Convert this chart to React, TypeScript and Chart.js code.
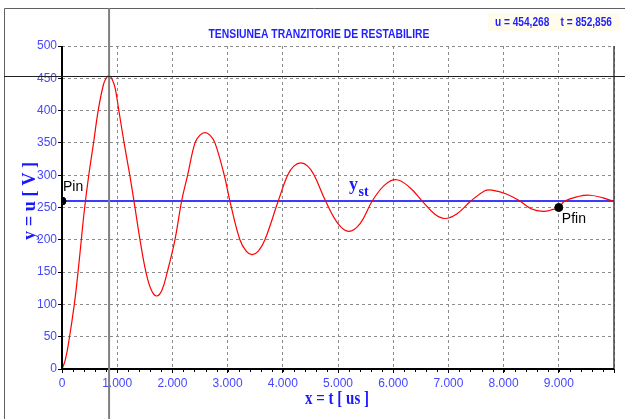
import React, { useEffect, useRef } from "react";
import { Chart, registerables } from "chart.js";

Chart.register(...registerables);

// ---- data ----
const curveT = [0, 60, 133, 223, 284, 344, 404, 485, 575, 655, 750, 800, 853, 905, 960, 1030, 1125, 1228, 1322, 1413, 1521, 1620, 1715, 1810, 1907, 2046, 2167, 2276, 2409, 2500, 2590, 2680, 2771, 2939, 3042, 3223, 3340, 3447, 3560, 3676, 3917, 4087, 4200, 4328, 4450, 4569, 4775, 5000, 5197, 5400, 5620, 5849, 6061, 6300, 6525, 6750, 6936, 7150, 7407, 7660, 7787, 8050, 8294, 8500, 8716, 8900, 9000, 9109, 9350, 9562, 9800, 10000];
const curveU = [0, 14, 48, 100, 145, 195, 245, 300, 352, 400, 440, 450, 454, 449, 436, 400, 350, 300, 250, 200, 150, 122, 113, 122, 150, 200, 260, 300, 350, 362, 366, 362, 350, 300, 260, 200, 182, 177, 183, 200, 260, 300, 314, 319, 314, 300, 260, 225, 213, 225, 260, 285, 293, 281, 260, 240, 233, 240, 260, 276, 277, 271, 260, 248, 244, 247, 250, 260, 267, 269, 265, 259];
const ySteady = 260;
const pointLabels = ["Pin", "Pfin"];
const pointT = [0, 9000];
const pointU = [260, 250];
const cursorT = 852.856;
const cursorU = 454.268;
const xTickLabels = ["0", "1.000", "2.000", "3.000", "4.000", "5.000", "6.000", "7.000", "8.000", "9.000"];
const titleText = "TENSIUNEA TRANZITORIE DE RESTABILIRE";
const xTitle = "x = t [ us ]";
const yTitle = "y = u [ V ]";

const W = 625;
const H = 419;
const NARROW = "'Liberation Sans Narrow', 'Liberation Sans', Arial, sans-serif";
const SERIF = "'Liberation Serif', 'Times New Roman', serif";

function fmt(v: number) {
  return v.toFixed(3).replace(".", ",");
}

function fitText(ctx: CanvasRenderingContext2D, text: string, x: number, y: number, width: number, align: "left" | "center") {
  const m = ctx.measureText(text).width;
  ctx.save();
  ctx.translate(x, y);
  ctx.scale(width / m, 1);
  ctx.textAlign = "left";
  ctx.fillText(text, align === "center" ? -m / 2 : 0, 0);
  ctx.restore();
}

const overlay = {
  id: "overlay",
  beforeDraw(chart: any) {
    const ctx = chart.ctx as CanvasRenderingContext2D;
    ctx.save();
    ctx.fillStyle = "#ffffff";
    ctx.fillRect(0, 0, W, H);
    ctx.fillStyle = "#fffcec";
    ctx.fillRect(488, 13, 132, 18);
    ctx.restore();
  },
  afterDraw(chart: any) {
    const ctx = chart.ctx as CanvasRenderingContext2D;
    const { chartArea } = chart;
    const xs = chart.scales.x;
    const ys = chart.scales.y;
    ctx.save();
    ctx.setLineDash([]);
    // right border of plot
    ctx.strokeStyle = "#404040";
    ctx.lineWidth = 1.5;
    ctx.beginPath();
    ctx.moveTo(chartArea.right, chartArea.top);
    ctx.lineTo(chartArea.right, chartArea.bottom);
    ctx.stroke();
    // axes
    ctx.strokeStyle = "#000000";
    ctx.lineWidth = 2;
    ctx.beginPath();
    ctx.moveTo(chartArea.left, chartArea.top);
    ctx.lineTo(chartArea.left, chartArea.bottom);
    ctx.lineTo(chartArea.right, chartArea.bottom);
    ctx.stroke();
    // minor ticks on x axis
    ctx.lineWidth = 1;
    ctx.beginPath();
    for (let v = 0; v <= 10000; v += 200) {
      const px = Math.round(xs.getPixelForValue(v)) + 0.5;
      ctx.moveTo(px, chartArea.bottom);
      ctx.lineTo(px, chartArea.bottom + 3);
    }
    ctx.stroke();
    // outer frame
    ctx.strokeStyle = "#606060";
    ctx.lineWidth = 1;
    ctx.beginPath();
    ctx.moveTo(4.5, H);
    ctx.lineTo(4.5, 8.5);
    ctx.lineTo(W, 8.5);
    ctx.stroke();
    // cursor cross
    const cx = xs.getPixelForValue(cursorT);
    const cy = ys.getPixelForValue(cursorU);
    ctx.strokeStyle = "#808080";
    ctx.lineWidth = 2;
    ctx.beginPath();
    ctx.moveTo(cx, 8);
    ctx.lineTo(cx, H);
    ctx.stroke();
    ctx.strokeStyle = "#202020";
    ctx.lineWidth = 1;
    ctx.beginPath();
    ctx.moveTo(4, Math.round(cy) + 0.5);
    ctx.lineTo(W, Math.round(cy) + 0.5);
    ctx.stroke();

    // title
    ctx.fillStyle = "#1e1eff";
    ctx.textBaseline = "alphabetic";
    ctx.font = `bold 13px ${NARROW}`;
    fitText(ctx, titleText, 319, 38, 221, "center");
    // cursor text
    ctx.font = `bold 12px ${NARROW}`;
    fitText(ctx, `u = ${fmt(cursorU)}    t = ${fmt(cursorT)}`, 495, 26, 117, "left");

    // axis titles
    ctx.fillStyle = "#1a1aff";
    ctx.font = `bold 18px ${SERIF}`;
    fitText(ctx, xTitle, 337, 404, 64, "center");
    ctx.save();
    ctx.translate(35, 201);
    ctx.rotate(-Math.PI / 2);
    fitText(ctx, yTitle, 0, 0, 78, "center");
    ctx.restore();

    // y_st label
    const stY = ys.getPixelForValue(ySteady);
    ctx.font = `bold 18px ${SERIF}`;
    ctx.textAlign = "left";
    ctx.fillText("y", 349, stY - 11);
    ctx.font = `bold 14px ${SERIF}`;
    ctx.fillText("st", 358.5, stY - 5);

    // point labels
    ctx.fillStyle = "#000000";
    ctx.font = `14px 'Liberation Sans', Arial, sans-serif`;
    const p0x = xs.getPixelForValue(pointT[0]);
    const p0y = ys.getPixelForValue(pointU[0]);
    ctx.fillText(pointLabels[0], p0x + 1, p0y - 10);
    const p1x = xs.getPixelForValue(pointT[1]);
    const p1y = ys.getPixelForValue(pointU[1]);
    ctx.fillText(pointLabels[1], p1x + 3, p1y + 15);
    ctx.restore();
  },
};

const gridOpts: any = {
  color: "#8c8c8c",
  lineWidth: 1,
  tickLength: 4,
  tickColor: "#000000",
  tickBorderDash: [],
};
const borderOpts: any = { display: false, dash: [3, 3], color: "#000000", width: 2 };

export default function App() {
  const ref = useRef<HTMLCanvasElement>(null);
  useEffect(() => {
    if (!ref.current) return;
    const chart = new Chart(ref.current, {
      type: "line",
      data: {
        datasets: [
          {
            label: "points",
            data: pointT.map((t, i) => ({ x: t, y: pointU[i] })),
            showLine: false,
            pointRadius: 4,
            pointBackgroundColor: "#000000",
            pointBorderColor: "#000000",
            borderColor: "#000000",
          },
          {
            label: "u",
            data: curveT.map((t, i) => ({ x: t, y: curveU[i] })),
            borderColor: "#ff0000",
            borderWidth: 1.2,
            pointRadius: 0,
            tension: 0.4,
            fill: false,
          },
          {
            label: "yst",
            data: [
              { x: 0, y: ySteady },
              { x: 10000, y: ySteady },
            ],
            borderColor: "#3c3cff",
            borderWidth: 2,
            pointRadius: 0,
            fill: false,
          },
        ],
      },
      options: {
        responsive: false,
        animation: false,
        events: [],
        layout: { padding: { left: 0, top: 46, right: 11, bottom: 0 } },
        plugins: { legend: { display: false }, tooltip: { enabled: false }, title: { display: false } },
        scales: {
          x: {
            type: "linear",
            min: 0,
            max: 10000,
            afterFit: (s: any) => {
              s.height = 50;
            },
            ticks: {
              stepSize: 1000,
              autoSkip: false,
              maxRotation: 0,
              padding: 3,
              color: "#4646ff",
              font: { family: NARROW, size: 12 },
              callback: (v: any, i: number) => (i < xTickLabels.length ? xTickLabels[i] : ""),
            },
            grid: gridOpts,
            border: borderOpts,
          },
          y: {
            min: 0,
            max: 500,
            afterFit: (s: any) => {
              s.width = 62;
            },
            ticks: {
              stepSize: 50,
              padding: 1,
              color: "#4646ff",
              font: { family: NARROW, size: 12 },
            },
            grid: gridOpts,
            border: borderOpts,
          },
        },
      },
      plugins: [overlay],
    } as any);
    return () => chart.destroy();
  }, []);
  return (
    <div style={{ position: "fixed", left: 0, top: 0, width: W, height: H, background: "#fff" }}>
      <canvas ref={ref} width={W} height={H} style={{ width: W, height: H, display: "block" }} />
    </div>
  );
}
